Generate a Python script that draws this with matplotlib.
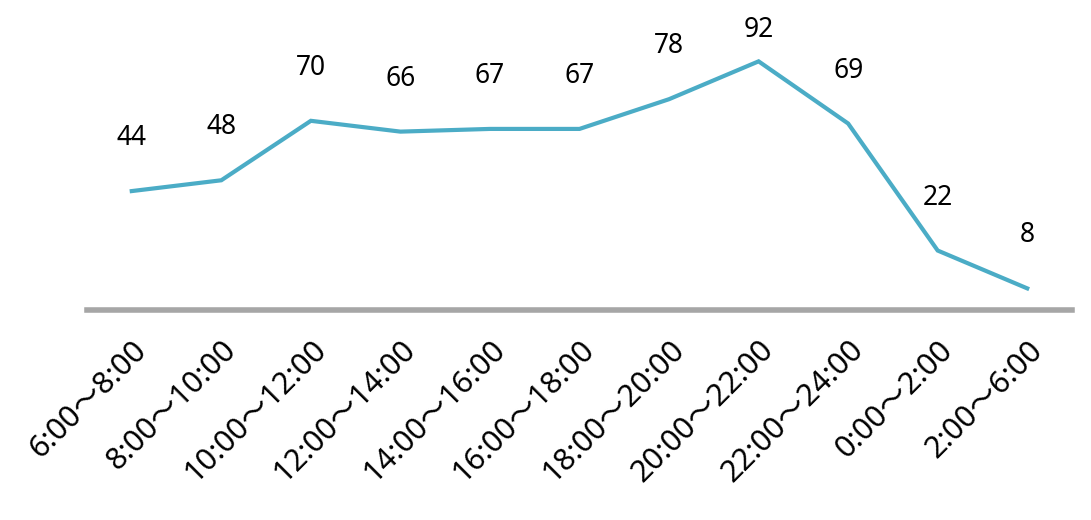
import matplotlib
matplotlib.use("Agg")
import matplotlib.pyplot as plt

plt.rcParams['font.family'] = ['Noto Sans', 'Noto Sans CJK JP', 'DejaVu Sans']

# Data
periods = ["6:00～8:00", "8:00～10:00", "10:00～12:00", "12:00～14:00",
           "14:00～16:00", "16:00～18:00", "18:00～20:00", "20:00～22:00",
           "22:00～24:00", "0:00～2:00", "2:00～6:00"]
counts = [44, 48, 70, 66, 67, 67, 78, 92, 69, 22, 8]

W, H = 1091, 520
fig = plt.figure(figsize=(W / 100, H / 100), dpi=100)
# axes in pixel box: x 87..1072, y 0..310 (from top)
ax = fig.add_axes([87 / W, (H - 310) / H, (1072 - 87) / W, 310 / H])

x = list(range(len(counts)))
ax.plot(x, counts, color='#4BACC6', lw=3, solid_joinstyle='miter')

for xi, v in zip(x, counts):
    ax.text(xi, min(v + 19.6, 103.7), str(v), ha='center', va='center',
            fontsize=19, color='black')

ax.set_xlim(-0.5, len(counts) - 0.5)
ax.set_ylim(0, 114.7)
ax.set_yticks([])
ax.set_xticks(x)
ax.set_xticklabels(periods, rotation=45, ha='right', va='top',
                   rotation_mode='anchor', fontsize=22)
ax.tick_params(axis='x', length=0, pad=18)

for s in ['top', 'right', 'left']:
    ax.spines[s].set_visible(False)
ax.spines['bottom'].set_color('#A6A6A6')
ax.spines['bottom'].set_linewidth(4)

fig.savefig('out.png', dpi=100)
